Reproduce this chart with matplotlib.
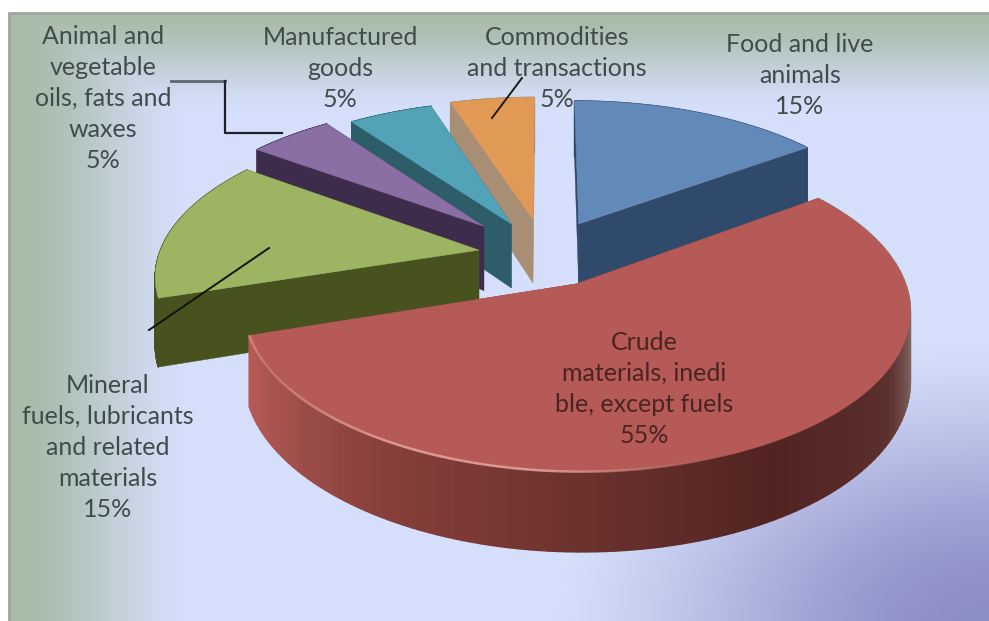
"""3D exploded pie chart of export shares, drawn by hand with a perspective projection."""
import numpy as np
import matplotlib
matplotlib.use('Agg')
import matplotlib.pyplot as plt
from matplotlib.collections import PolyCollection, LineCollection

plt.rcParams['font.family'] = ['Lato', 'DejaVu Sans']

categories = ['Food and live\nanimals',
              'Crude\nmaterials, inedi\nble, except fuels',
              'Mineral\nfuels, lubricants\nand related\nmaterials',
              'Animal and\nvegetable\noils, fats and\nwaxes',
              'Manufactured\ngoods',
              'Commodities\nand transactions']
shares = [15, 55, 15, 5, 5, 5]

top_colors = ['#6389b8', '#b55a56', '#9db563', '#8a6fa5', '#52a3b8', '#e09a55']
side_colors = ['#2f4a6b', '#7a3834', '#47521f', '#3e2c4c', '#2d5d68', '#a88e74']
explode = [0.24, 0.21, 0.21, 0.278, 0.24, 0.25]

label_pos = [(800, 33), (644, 331), (108, 374), (103, 25), (340, 26), (557, 26)]
label_color = ['#404c4c', '#4a2422', '#404c4c', '#404c4c', '#404c4c', '#404c4c']

W, H = 989, 621
CX, CY = 545, 255
RX, RY = 320, 150
PERSP = 0.15
DEPTH = 66


def project(x, y, z=0.0):
    s = 1 / (1 + PERSP * y)
    return CX + RX * x * s, CY - RY * y * s + z * s


def smooth(t):
    t = np.clip(t, 0, 1)
    return t * t * (3 - 2 * t)


def background():
    yy, xx = np.mgrid[0:H, 0:W]
    base = np.array([214, 223, 251]) / 255
    green = np.array([167, 187, 168]) / 255
    purple = np.array([140, 142, 198]) / 255
    left = smooth((180 - xx) / 170) * 0.6 + np.clip((180 - xx) / 170, 0, 1) * 0.4
    top = smooth((110 - yy) / 97) * 0.6 + np.clip((110 - yy) / 97, 0, 1) * 0.4
    g = np.maximum(left, top)[..., None]
    img = base * (1 - g) + green * g
    d = np.sqrt(((xx - 985) / 450) ** 2 + ((yy - 625) / 290) ** 2)
    p = smooth(1 - d)[..., None] ** 0.8
    return img * (1 - p) + purple * p


def shade(angle):
    # colours of the curved rim of the big slice, by angle clockwise from 12 o'clock
    a = [54, 95, 105, 120, 150, 180, 215, 235, 252]
    r = [150, 150, 125, 92, 82, 108, 140, 165, 185]
    g = [125, 125, 95, 48, 36, 50, 66, 82, 92]
    b = [120, 120, 90, 46, 33, 46, 62, 78, 88]
    return np.interp(angle, a, r) / 255, np.interp(angle, a, g) / 255, np.interp(angle, a, b) / 255


fig = plt.figure(figsize=(W / 100, H / 100), dpi=100)
ax = fig.add_axes([0, 0, 1, 1])
ax.set_xlim(0, W)
ax.set_ylim(H, 0)
ax.axis('off')

# frame of the plot area, white strip at top and left
ax.imshow(background()[13:], extent=(10, W, H, 13), aspect='auto', zorder=0, interpolation='bilinear')
ax.plot([9, 9, W], [H, 13, 13], color='#a3a3a3', lw=2, zorder=1, solid_joinstyle='miter')

edges = np.concatenate([[0], np.cumsum(shares)]) * 3.6
# back slices first, the big red one last
order = [5, 4, 3, 2, 0, 1]
z = 2
for i in order:
    a0, a1 = edges[i], edges[i + 1]
    mid = np.radians((a0 + a1) / 2)
    ox, oy = explode[i] * np.sin(mid), explode[i] * np.cos(mid)
    ang = np.radians(np.linspace(a0, a1, 140))
    ux = ox + np.sin(ang)
    uy = oy + np.cos(ang)

    # flat cut faces
    for k in (0, -1):
        tx0, ty0 = project(ox, oy)
        tx1, ty1 = project(ux[k], uy[k])
        bx0, by0 = project(ox, oy, DEPTH)
        bx1, by1 = project(ux[k], uy[k], DEPTH)
        ax.fill([tx0, tx1, bx1, bx0], [ty0, ty1, by1, by0], color=side_colors[i], lw=0.3, zorder=z)

    # curved rim as thin strips
    tx, ty = project(ux, uy)
    bx, by = project(ux, uy, DEPTH)
    polys = [[(tx[j], ty[j]), (tx[j + 1], ty[j + 1]), (bx[j + 1], by[j + 1]), (bx[j], by[j])]
             for j in range(len(tx) - 1)]
    cols = [shade(np.degrees(v)) if i == 1 else side_colors[i] for v in ang[:-1]]
    ax.add_collection(PolyCollection(polys, facecolors=cols, edgecolors=cols, linewidths=1.0, zorder=z))

    # top face
    x0, y0 = project(ox, oy)
    ax.fill(np.r_[x0, tx], np.r_[y0, ty], color=top_colors[i], lw=0.3, zorder=z)

    # light bevel on the near edge of the red slice, strongest bottom left
    if i == 1:
        deg = np.degrees(ang)
        segs = [[(tx[j], ty[j]), (tx[j + 1], ty[j + 1])] for j in range(len(tx) - 1)]
        alpha = np.interp(deg[:-1], [160, 185, 205, 240, 252], [0, 0.85, 0.9, 0.35, 0.6])
        rgba = [(0.90, 0.65, 0.62, v) for v in alpha]
        ax.add_collection(LineCollection(segs, colors=rgba, linewidths=1.8, zorder=z))
    z += 1

# leader lines
ax.plot([171, 225], [81, 81], color='#5c6870', lw=2, zorder=20)
ax.plot([225, 225, 282], [81, 133, 133], color='#1c2228', lw=1.6, zorder=20)
ax.plot([269, 149], [248, 330], color='#101408', lw=1.4, zorder=20)
ax.plot([522, 492], [78, 118], color='#1c1c18', lw=1.4, zorder=20)

for i, (name, val) in enumerate(zip(categories, shares)):
    ax.text(label_pos[i][0], label_pos[i][1], f'{name}\n{val}%', ha='center', va='top',
            fontsize=18, color=label_color[i], linespacing=1.42, zorder=21,
            multialignment='center')

fig.savefig('out.png', dpi=100, facecolor='white')
plt.close(fig)
